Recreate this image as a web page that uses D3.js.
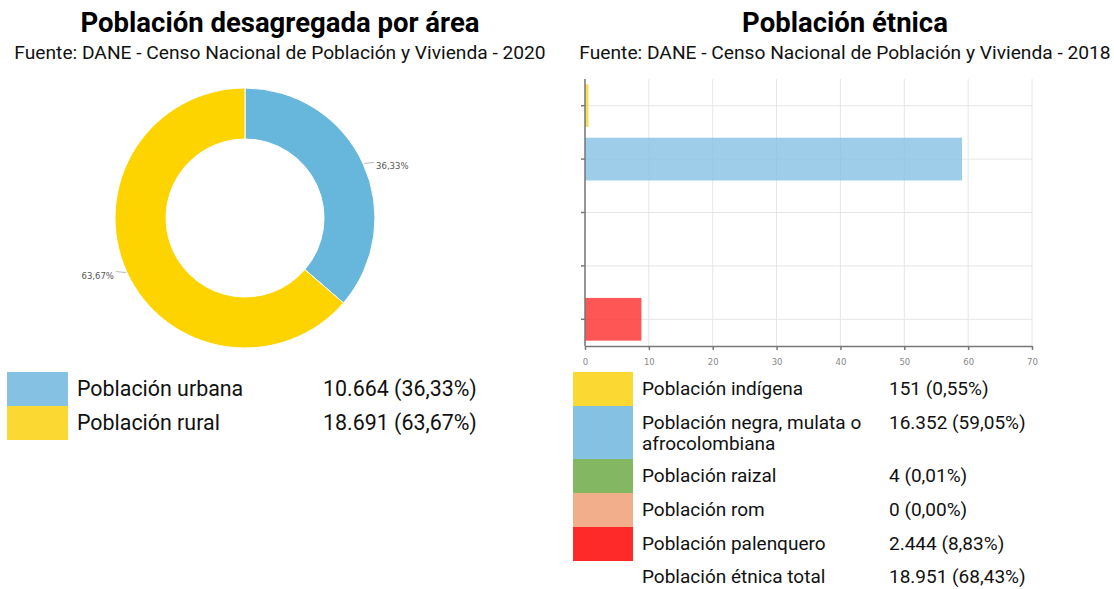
<!DOCTYPE html>
<html lang="es">
<head>
  <meta charset="UTF-8">
  <title>Población por área y población étnica</title>
  <style>
    body {
      margin: 0;
      background: #fff;
      font-family: Roboto, "Noto Sans", sans-serif;
    }

    svg text {
      font-family: Roboto, "Noto Sans", sans-serif;
    }

    .grid line {
      stroke: #e6e6e6;
      stroke-width: 1px;
    }

    .axis path,
    .axis line {
      stroke: #777;
      stroke-width: 1.5px;
    }

    .axis text {
      font-family: "DejaVu Sans", Verdana, sans-serif;
      font-size: 8.5px;
      fill: #888;
    }
  </style>
  <script src="https://d3js.org/d3.v7.min.js"></script>
</head>
<body>
  <svg id="chart" width="1114" height="589"></svg>

  <script>
    // -----------------------------
    // Data
    // -----------------------------
    const areaCategories = ["Población urbana", "Población rural"];
    const areaValues = [10664, 18691];
    const areaPercents = [36.33, 63.67];
    const areaColours = ["#67b7dc", "#fdd400"];
    const areaLegendColours = ["#85c1e2", "#fbd932"];

    const etniaCategories = [
      "Población indígena",
      "Población negra, mulata o afrocolombiana",
      "Población raizal",
      "Población rom",
      "Población palenquero"
    ];
    // legend labels (the long one wraps on two lines)
    const etniaLabelLines = [
      ["Población indígena"],
      ["Población negra, mulata o", "afrocolombiana"],
      ["Población raizal"],
      ["Población rom"],
      ["Población palenquero"]
    ];
    const etniaValues = [151, 16352, 4, 0, 2444];
    const etniaPercents = [0.55, 59.05, 0.01, 0.00, 8.83];
    const etniaColours = ["#fbd932", "#85c1e2", "#84b761", "#f2ae8a", "#fe2a2a"];
    const etniaBarColours = ["#f7d52a", "#85c1e2", "#84b761", "#f2ae8a", "#fe2a2a"];
    const etniaTotalLabel = "Población étnica total";
    const etniaTotalValue = 18951;
    const etniaTotalPercent = 68.43;

    const xTicks = [0, 10, 20, 30, 40, 50, 60, 70];

    // Spanish number format
    const es = d3.formatLocale({
      decimal: ",",
      thousands: ".",
      grouping: [3],
      currency: ["$", ""]
    });
    const fmtInt = es.format(",d");
    const fmtPct = es.format(".2f");

    const svg = d3.select("#chart");
    const areaLegendFont = "21.4px";
    const etniaLegendFont = "19px";

    // -----------------------------
    // Titles
    // -----------------------------
    function drawTitle(cx, title, subtitle) {
      svg.append("text")
        .attr("x", cx).attr("y", 32)
        .attr("text-anchor", "middle")
        .style("font-size", "27.5px")
        .style("font-weight", "bold")
        .attr("fill", "#000")
        .text(title);
      svg.append("text")
        .attr("x", cx).attr("y", 59)
        .attr("text-anchor", "middle")
        .style("font-size", "19.2px")
        .attr("fill", "#111")
        .text(subtitle);
    }

    drawTitle(280, "Población desagregada por área",
      "Fuente: DANE - Censo Nacional de Población y Vivienda - 2020");
    drawTitle(845, "Población étnica",
      "Fuente: DANE - Censo Nacional de Población y Vivienda - 2018");

    // -----------------------------
    // Donut
    // -----------------------------
    const cx = 245, cy = 218;
    const outerR = 130, innerR = 79;

    const pie = d3.pie().sort(null).value(d => d);
    const arc = d3.arc().innerRadius(innerR).outerRadius(outerR);
    const arcs = pie(areaValues);

    const donut = svg.append("g").attr("transform", `translate(${cx},${cy})`);

    donut.selectAll("path")
      .data(arcs)
      .join("path")
      .attr("d", arc)
      .attr("fill", (d, i) => areaColours[i])
      .attr("stroke", "#fff")
      .attr("stroke-width", 1);

    // slice labels with a short tick
    arcs.forEach((d, i) => {
      const mid = (d.startAngle + d.endAngle) / 2;
      const px = Math.sin(mid) * (outerR + 1);
      const py = -Math.cos(mid) * (outerR + 1);
      const dir = px >= 0 ? 1 : -1;
      donut.append("line")
        .attr("x1", px).attr("y1", py)
        .attr("x2", px + dir * 10).attr("y2", py - 1)
        .attr("stroke", "#bbb")
        .attr("stroke-width", 1);
      donut.append("text")
        .attr("x", px + dir * 12)
        .attr("y", py + 3)
        .attr("dy", "0.35em")
        .attr("text-anchor", dir > 0 ? "start" : "end")
        .style("font-family", "'DejaVu Sans', Verdana, sans-serif")
        .style("font-size", "8.5px")
        .attr("fill", "#555")
        .text(fmtPct(areaPercents[i]) + "%");
    });

    // donut legend
    const areaLegend = svg.append("g");
    areaCategories.forEach((name, i) => {
      const y0 = 372 + i * 34;
      areaLegend.append("rect")
        .attr("x", 7).attr("y", y0)
        .attr("width", 61).attr("height", 34)
        .attr("fill", areaLegendColours[i]);
      areaLegend.append("text")
        .attr("x", 77).attr("y", y0 + 24)
        .style("font-size", areaLegendFont)
        .attr("fill", "#111")
        .text(name);
      areaLegend.append("text")
        .attr("x", 323).attr("y", y0 + 24)
        .style("font-size", areaLegendFont)
        .attr("fill", "#111")
        .text(fmtInt(areaValues[i]) + " (" + fmtPct(areaPercents[i]) + "%)");
    });

    // -----------------------------
    // Horizontal bars
    // -----------------------------
    const plot = { left: 585, right: 1032, top: 79, bottom: 346 };

    const x = d3.scaleLinear()
      .domain([0, 70])
      .range([plot.left, plot.right]);

    const y = d3.scaleBand()
      .domain(etniaCategories)
      .range([plot.top, plot.bottom])
      .paddingInner(0.2)
      .paddingOuter(0.1);

    const grid = svg.append("g").attr("class", "grid");
    grid.selectAll("line.v")
      .data(xTicks)
      .join("line")
      .attr("class", "v")
      .attr("x1", d => x(d)).attr("x2", d => x(d))
      .attr("y1", plot.top).attr("y2", plot.bottom);
    grid.selectAll("line.h")
      .data(etniaCategories)
      .join("line")
      .attr("class", "h")
      .attr("x1", plot.left).attr("x2", plot.right)
      .attr("y1", d => y(d) + y.bandwidth() / 2)
      .attr("y2", d => y(d) + y.bandwidth() / 2);

    svg.append("g")
      .selectAll("rect")
      .data(etniaPercents)
      .join("rect")
      .attr("x", x(0))
      .attr("y", (d, i) => y(etniaCategories[i]))
      .attr("width", d => x(d) - x(0))
      .attr("height", y.bandwidth())
      .attr("fill", (d, i) => etniaBarColours[i])
      .attr("fill-opacity", 0.8);

    const xAxis = svg.append("g")
      .attr("class", "axis")
      .attr("transform", `translate(0,${plot.bottom})`)
      .call(d3.axisBottom(x).tickValues(xTicks).tickSize(4).tickPadding(7).tickSizeOuter(0));
    xAxis.selectAll("text").attr("dy", "0.9em");

    const yAxis = svg.append("g")
      .attr("class", "axis")
      .attr("transform", `translate(${plot.left},0)`)
      .call(d3.axisLeft(y).tickSize(4).tickSizeOuter(0).tickFormat(""));
    yAxis.select(".domain").attr("d", `M0,${plot.top}V${plot.bottom}`);

    // bar legend
    const etniaLegend = svg.append("g");
    let yCursor = 372;
    etniaCategories.forEach((name, i) => {
      const lines = etniaLabelLines[i];
      const h = lines.length > 1 ? 53 : 34;
      etniaLegend.append("rect")
        .attr("x", 573).attr("y", yCursor)
        .attr("width", 60).attr("height", h)
        .attr("fill", etniaColours[i]);
      lines.forEach((ln, k) => {
        etniaLegend.append("text")
          .attr("x", 642).attr("y", yCursor + 23 + k * 21)
          .style("font-size", etniaLegendFont)
          .attr("fill", "#111")
          .text(ln);
      });
      etniaLegend.append("text")
        .attr("x", 889).attr("y", yCursor + 23)
        .style("font-size", etniaLegendFont)
        .attr("fill", "#111")
        .text(fmtInt(etniaValues[i]) + " (" + fmtPct(etniaPercents[i]) + "%)");
      yCursor += h;
    });
    etniaLegend.append("text")
      .attr("x", 642).attr("y", yCursor + 22)
      .style("font-size", etniaLegendFont)
      .attr("fill", "#111")
      .text(etniaTotalLabel);
    etniaLegend.append("text")
      .attr("x", 889).attr("y", yCursor + 22)
      .style("font-size", etniaLegendFont)
      .attr("fill", "#111")
      .text(fmtInt(etniaTotalValue) + " (" + fmtPct(etniaTotalPercent) + "%)");
  </script>
</body>
</html>
